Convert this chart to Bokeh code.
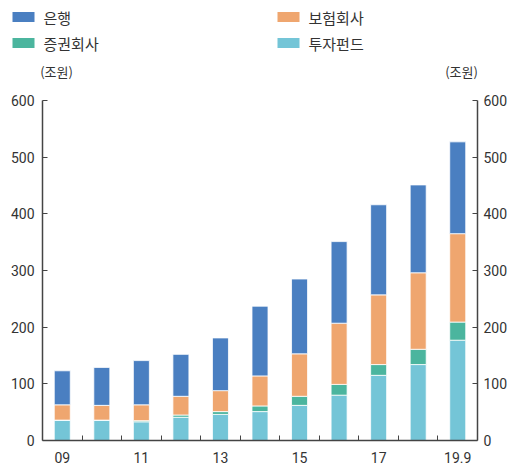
from bokeh.plotting import figure
from bokeh.models import ColumnDataSource, LinearAxis, FixedTicker, Range1d
from bokeh.layouts import column
from bokeh.core.properties import value
from bokeh.embed import file_html
from bokeh.resources import INLINE

# ---- data (조원) ----
periods = ["09", "10", "11", "12", "13", "14", "15", "16", "17", "18", "19.9"]
fund = [36, 36, 33, 41, 46, 51, 62, 80, 115, 134, 177]        # 투자펀드
securities = [0, 0, 2, 4, 5, 10, 16, 19, 19, 27, 32]          # 증권회사
insurance = [27, 26, 28, 33, 37, 53, 75, 108, 123, 135, 156]  # 보험회사
bank = [60, 67, 78, 74, 93, 123, 132, 144, 159, 155, 162]     # 은행
shown_labels = ["09", "11", "13", "15", "17", "19.9"]
y_ticks = [0, 100, 200, 300, 400, 500, 600]
unit_label = "(조원)"

series_names = ["투자펀드", "증권회사", "보험회사", "은행"]
series_vals = [fund, securities, insurance, bank]
colors = ["#74c5d7", "#4bb59e", "#efa66f", "#4a7fc1"]

x_pos = [i + 0.5 for i in range(len(periods))]

TXT = "#333333"
AX = "#444444"
FONT = "Roboto"
KFONT = "Noto Sans CJK KR"
W = 510
TOP_H = 90

# ---------- header: legend + unit labels (pixel-like coordinates) ----------
head = figure(width=W, height=TOP_H, output_backend="svg", toolbar_location=None,
              x_range=Range1d(0, W), y_range=Range1d(TOP_H, 0),
              min_border=0, min_border_left=0, min_border_right=0,
              min_border_top=0, min_border_bottom=0, outline_line_color=None,
              frame_align=False)
head.axis.visible = False
head.grid.visible = False

leg_order = ["은행", "보험회사", "증권회사", "투자펀드"]
leg_x = [12, 277, 12, 277]
leg_y = [16.5, 16.5, 42.5, 42.5]
leg_colors = [colors[series_names.index(n)] for n in leg_order]
head.rect(x=[x + 11 for x in leg_x], y=leg_y, width=22, height=10,
          fill_color=leg_colors, line_color=None)
head.text(x=[x + 31 for x in leg_x], y=leg_y, text=leg_order,
          text_font=value(KFONT), text_font_size="15px", text_color=TXT,
          text_baseline="middle", text_align="left")
head.text(x=[56, 461], y=[71, 71], text=[unit_label, unit_label],
          text_font=value(KFONT), text_font_size="13px", text_color=TXT,
          text_baseline="middle", text_align="center")

# ---------- main chart ----------
p = figure(width=W, height=468 - TOP_H, output_backend="svg", toolbar_location=None,
           x_range=Range1d(0, len(periods)), y_range=Range1d(0, 600),
           min_border_left=42, min_border_right=33, min_border_top=10,
           min_border_bottom=28, outline_line_color=None, frame_align=False)
p.grid.visible = False
p.xaxis.visible = False
p.yaxis.visible = False

bottom = [0] * len(periods)
for name, vals, col in zip(series_names, series_vals, colors):
    top = [b + v for b, v in zip(bottom, vals)]
    src = ColumnDataSource(dict(x=x_pos, bottom=bottom, top=top))
    p.vbar(x="x", bottom="bottom", top="top", width=0.405, source=src,
           fill_color=col, line_color="white", line_width=0.8)
    bottom = top

xt = FixedTicker(ticks=[x_pos[periods.index(l)] for l in shown_labels],
                 minor_ticks=list(range(1, len(periods))))
xa = LinearAxis(ticker=xt)
xa.major_label_overrides = {x_pos[periods.index(l)]: l for l in shown_labels}
xa.major_tick_in = 0
xa.major_tick_out = 0
xa.minor_tick_in = 5
xa.minor_tick_out = 0
xa.minor_tick_line_color = AX
xa.axis_line_color = AX
xa.axis_line_width = 1.5
xa.major_label_standoff = 11
xa.major_label_text_font = FONT
xa.major_label_text_font_size = "14px"
xa.major_label_text_color = TXT
p.add_layout(xa, "below")

for side in ["left", "right"]:
    ya = LinearAxis(ticker=FixedTicker(ticks=y_ticks))
    ya.major_tick_in = 5
    ya.major_tick_out = 0
    ya.minor_tick_in = 0
    ya.minor_tick_out = 0
    ya.major_tick_line_color = AX
    ya.axis_line_color = AX
    ya.axis_line_width = 1.5
    ya.major_label_standoff = 8 if side == "left" else 6
    ya.major_label_text_font = FONT
    ya.major_label_text_font_size = "14px"
    ya.major_label_text_color = TXT
    p.add_layout(ya, side)

layout = column(head, p, spacing=0)
open("out.html", "w").write(file_html(layout, INLINE))
